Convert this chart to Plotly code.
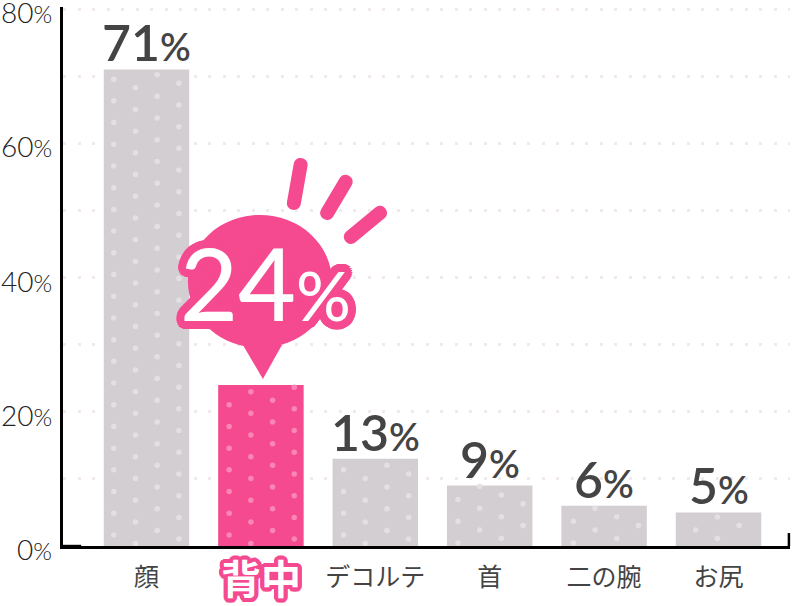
import math

import numpy as np
import plotly.graph_objects as go

categories = ["顔", "背中", "デコルテ", "首", "二の腕", "お尻"]
values = [71, 24, 13, 9, 6, 5]
y_ticks = [0, 20, 40, 60, 80]
grid_ticks = [10, 20, 30, 40, 50, 60, 70, 80]

GREY = "#d3ced2"
PINK = "#f54a90"
TEXT = "#444444"
HILITE = 1

# px scale of the reference, used for the dot texture only
PX_PER_CAT = 114.4
PX_PER_PCT = 6.71
DOT_STEP = 21.7
DOT_SHIFT = 8.6
dot_left = [10, 11, 11, 11, 12, 20]
dot_up = [11, 11, 11, 3, 3, 16]
BAR_W = 85.5


def outline(radius, colour):
    steps = 24
    parts = []
    for i in range(steps):
        a = 2 * math.pi * i / steps
        parts.append(f"{radius * math.cos(a):.1f}px {radius * math.sin(a):.1f}px 0 {colour}")
    return ", ".join(parts)


def pct_label(value, big, small):
    return f'<span style="font-size:{big}px">{value}</span><span style="font-size:{small}px">%</span>'


def capsule(x0, y0, x1, y1, r):
    # rounded stroke as a closed path, in px from the anchor
    dx, dy = x1 - x0, y1 - y0
    n = math.hypot(dx, dy)
    ux, uy = dx / n, dy / n
    px, py = -uy * r, ux * r
    k = 1.33 * r
    return (
        f"M{x0 + px:.1f},{y0 + py:.1f} L{x1 + px:.1f},{y1 + py:.1f} "
        f"C{x1 + px + ux * k:.1f},{y1 + py + uy * k:.1f} {x1 - px + ux * k:.1f},{y1 - py + uy * k:.1f} "
        f"{x1 - px:.1f},{y1 - py:.1f} L{x0 - px:.1f},{y0 - py:.1f} "
        f"C{x0 - px - ux * k:.1f},{y0 - py - uy * k:.1f} {x0 + px - ux * k:.1f},{y0 + py - uy * k:.1f} "
        f"{x0 + px:.1f},{y0 + py:.1f} Z"
    )


def pixel_shape(**kw):
    return dict(
        xref="x", yref="y", xsizemode="pixel", ysizemode="pixel",
        xanchor=HILITE, yanchor=values[HILITE],
        fillcolor=PINK, line=dict(width=0), layer="above", **kw,
    )


fig = go.Figure()

fig.add_trace(go.Bar(
    x=list(range(len(categories))),
    y=values,
    marker=dict(color=[PINK if i == HILITE else GREY for i in range(len(values))], line=dict(width=0)),
    hoverinfo="skip",
))

# dot texture on the bars, follows each bar's height
for i, v in enumerate(values):
    xs, ys = [], []
    for col in range(4):
        left = dot_left[i] + col * DOT_STEP
        if left > BAR_W - 3:
            continue
        up = (dot_up[i] - col * DOT_SHIFT) % DOT_STEP
        for h in np.arange(up, v * PX_PER_PCT, DOT_STEP):
            xs.append(i + (left - BAR_W / 2) / PX_PER_CAT)
            ys.append(h / PX_PER_PCT)
    fig.add_trace(go.Scatter(
        x=xs, y=ys, mode="markers", hoverinfo="skip",
        marker=dict(size=5.5, color="#f986b5" if i == HILITE else "#e3dfe2"),
    ))

shapes = [
    pixel_shape(type="circle", x0=-73, x1=71, y0=37, y1=170),
    pixel_shape(type="path", path="M-18,40 L21,40 L2,6 Z"),
    pixel_shape(type="path", path=capsule(39.7, 220, 33, 182, 7)),
    pixel_shape(type="path", path=capsule(84.7, 203, 66.3, 172, 7)),
    pixel_shape(type="path", path=capsule(119, 172, 90, 148, 7)),
    # little end ticks of the axis
    dict(type="line", xref="paper", yref="paper", x0=0.9985, x1=0.9985, y0=0, y1=0.024,
         line=dict(color="black", width=2.5)),
    dict(type="line", xref="paper", yref="paper", x0=0, x1=0.025, y0=-0.001, y1=-0.001,
         line=dict(color="black", width=3.5)),
]

annotations = [
    dict(
        x=HILITE, y=values[HILITE], xref="x", yref="y", showarrow=False,
        xshift=5, yshift=103,
        text=pct_label(values[HILITE], 100, 68),
        font=dict(family="Lato", color="white", weight=500, shadow=outline(8, PINK)),
    ),
    dict(
        x=HILITE, y=0, xref="x", yref="y", showarrow=False, yshift=-31,
        text=categories[HILITE],
        font=dict(family="Noto Sans CJK JP", size=40, color="white", weight=700, shadow=outline(4, PINK)),
    ),
]
for i, v in enumerate(values):
    if i == HILITE:
        continue
    annotations.append(dict(
        x=i, y=v, xref="x", yref="y", yanchor="bottom", showarrow=False, yshift=-5,
        text=pct_label(v, 50, 38),
        font=dict(family="Lato", color=TEXT, weight=600),
    ))
for t in y_ticks:
    annotations.append(dict(
        x=0, y=t, xref="paper", yref="y", xanchor="right", showarrow=False,
        xshift=-9, yshift=-3,
        text=f'<span style="font-size:28px">{t}</span><span style="font-size:24px">%</span>',
        font=dict(family="Lato", color="#222222", weight=300),
    ))

fig.update_layout(
    width=792,
    height=606,
    margin=dict(l=63, r=2, t=7, b=60),
    paper_bgcolor="white",
    plot_bgcolor="white",
    showlegend=False,
    bargap=0.253,
    shapes=shapes,
    annotations=annotations,
)
fig.update_xaxes(
    range=[-0.73, 5.625],
    tickmode="array",
    tickvals=list(range(len(categories))),
    ticktext=["" if i == HILITE else c for i, c in enumerate(categories)],
    tickfont=dict(family="Noto Sans CJK JP", size=25, color=TEXT),
    ticks="",
    ticklabelstandoff=7,
    showgrid=False,
    zeroline=False,
    showline=True,
    linecolor="black",
    linewidth=2.5,
)
fig.update_yaxes(
    range=[0, 80.3],
    tickmode="array",
    tickvals=grid_ticks,
    showticklabels=False,
    ticks="",
    showgrid=True,
    gridcolor="#f2e9ed",
    gridwidth=3,
    griddash="3px,11.5px",
    zeroline=False,
    showline=True,
    linecolor="black",
    linewidth=2.5,
)

fig.write_html(
    "out.html",
    config={"displayModeBar": False},
    post_script="document.body.style.margin = '0';",
)
